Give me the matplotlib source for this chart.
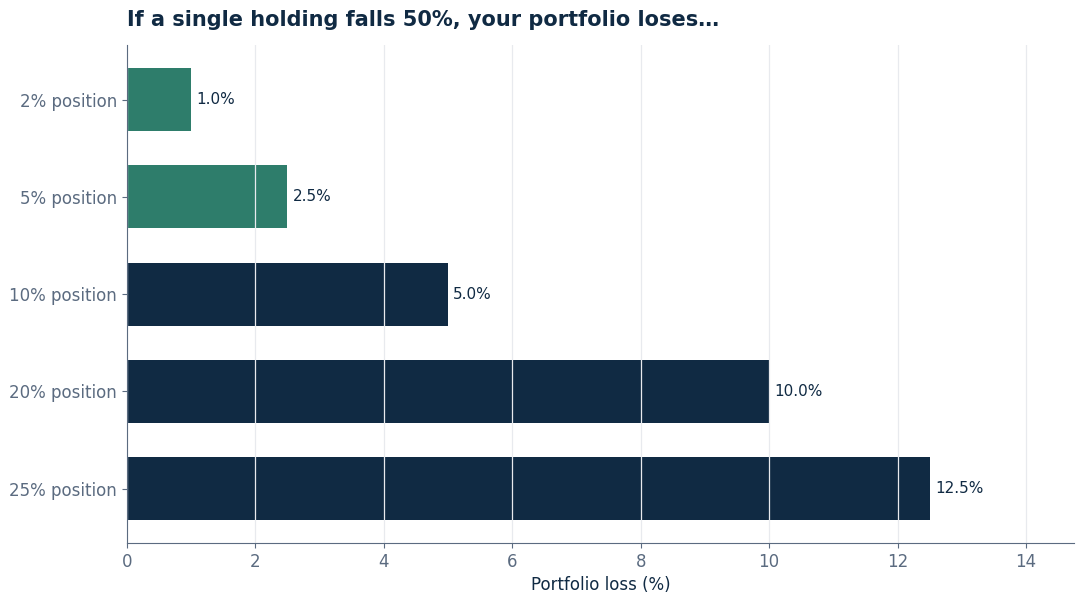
import numpy as np
import matplotlib
matplotlib.use("Agg")
import matplotlib.pyplot as plt

# dados
categorias = ["2% position", "5% position", "10% position", "20% position", "25% position"]
perdas = [1.0, 2.5, 5.0, 10.0, 12.5]
cores = ["#2e7d6b", "#2e7d6b", "#102a43", "#102a43", "#102a43"]

navy = "#102a43"
cinza = "#5b6b80"

fig = plt.figure(figsize=(10.84, 6.04), dpi=100)
ax = fig.add_axes([0.117, 0.101, 0.874, 0.824])

y = np.arange(len(categorias))
ax.barh(y, perdas, height=0.65, color=cores, zorder=1)
ax.set_yticks(y)
ax.set_yticklabels(categorias)
ax.invert_yaxis()

for yi, v in zip(y, perdas):
    ax.text(v + 0.08, yi, f"{v:.1f}%", va="center", ha="left", fontsize=11, color=navy)

ax.set_xlim(0, 14.75)
ax.set_xticks(np.arange(0, 15, 2))
ax.grid(axis="x", color="#e8eaee", linewidth=0.9, zorder=2)
ax.set_axisbelow(False)

for s in ["top", "right"]:
    ax.spines[s].set_visible(False)
for s in ["left", "bottom"]:
    ax.spines[s].set_color(cinza)
    ax.spines[s].set_zorder(5)
ax.tick_params(colors=cinza, labelsize=12)
ax.set_xlabel("Portfolio loss (%)", fontsize=12, color=navy)
ax.set_title("If a single holding falls 50%, your portfolio loses…", loc="left",
             fontsize=15, fontweight="bold", color=navy, pad=14)

plt.savefig("out.png", dpi=100)
plt.close()
